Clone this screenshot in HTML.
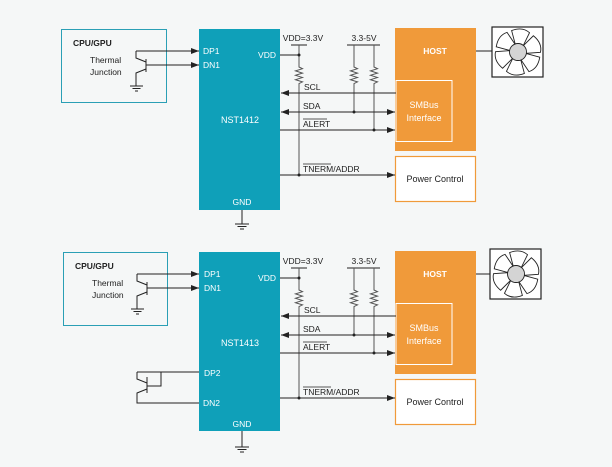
<!DOCTYPE html>
<html><head><meta charset="utf-8"><style>
html,body{margin:0;padding:0;background:#f5f7f7;}
svg{display:block;font-family:"Liberation Sans",sans-serif;}
</style></head><body>
<svg width="612" height="467" viewBox="0 0 612 467" xmlns="http://www.w3.org/2000/svg">
<defs>
<marker id="ar" markerWidth="8" markerHeight="6" refX="8" refY="3" orient="auto" markerUnits="userSpaceOnUse"><path d="M0,0 L8,3 L0,6 Z" fill="#222"/></marker>
<marker id="al" markerWidth="8" markerHeight="6" refX="0" refY="3" orient="auto" markerUnits="userSpaceOnUse"><path d="M8,0 L0,3 L8,6 Z" fill="#222"/></marker>
<g id="fan">
<rect x="492" y="27" width="51" height="50" fill="#fff" stroke="#222" stroke-width="1.2"/>
<g transform="translate(518,52)" fill="#fff" stroke="#222" stroke-width="0.9">
<path d="M-4,-7 L-10,-20 Q0,-26 8,-21 L4,-7 Z" transform="rotate(10)"/>
<path d="M-4,-7 L-10,-20 Q0,-26 8,-21 L4,-7 Z" transform="rotate(70)"/>
<path d="M-4,-7 L-10,-20 Q0,-26 8,-21 L4,-7 Z" transform="rotate(130)"/>
<path d="M-4,-7 L-10,-20 Q0,-26 8,-21 L4,-7 Z" transform="rotate(190)"/>
<path d="M-4,-7 L-10,-20 Q0,-26 8,-21 L4,-7 Z" transform="rotate(250)"/>
<path d="M-4,-7 L-10,-20 Q0,-26 8,-21 L4,-7 Z" transform="rotate(310)"/>
<circle r="8.5" fill="#d4d4d4"/>
</g>
</g>
<g id="right" stroke="#222" stroke-width="1" fill="none">
<rect x="395" y="28" width="81" height="123" fill="#f09a3a" stroke="none"/>
<rect x="396" y="80.5" width="56" height="61" fill="#f09a3a" stroke="#fff" stroke-width="1"/>
<rect x="395.5" y="156.5" width="80" height="45" fill="#fff" stroke="#f09a3a" stroke-width="1.2"/>
<line x1="476" y1="51" x2="492" y2="51"/>
<line x1="280" y1="55" x2="299" y2="55"/>
<line x1="291" y1="45" x2="307" y2="45"/>
<path d="M299,45 V67 l3.5,1.7 l-7,2.2 l7,2.2 l-7,2.2 l7,2.2 l-7,2.2 l7,2.2 l-3.5,1.7 V175" stroke="#555"/>
<line x1="347" y1="45" x2="380" y2="45"/>
<path d="M354,45 V67 l3.5,1.7 l-7,2.2 l7,2.2 l-7,2.2 l7,2.2 l-7,2.2 l7,2.2 l-3.5,1.7 V112" stroke="#555"/>
<path d="M374,45 V67 l3.5,1.7 l-7,2.2 l7,2.2 l-7,2.2 l7,2.2 l-7,2.2 l7,2.2 l-3.5,1.7 V130" stroke="#555"/>
<line x1="396" y1="93" x2="281" y2="93" marker-end="url(#ar)"/>
<line x1="281" y1="112" x2="395" y2="112" marker-start="url(#al)" marker-end="url(#ar)"/>
<line x1="280" y1="130" x2="395" y2="130" marker-end="url(#ar)"/>
<line x1="280" y1="175" x2="395" y2="175" marker-end="url(#ar)"/>
<g fill="#222" stroke="none">
<circle cx="299" cy="55" r="1.5"/><circle cx="299" cy="175" r="1.5"/>
<circle cx="354" cy="112" r="1.5"/><circle cx="374" cy="130" r="1.5"/>
</g>
</g>
<g id="rtext" font-size="8.5" fill="#222">
<text x="303" y="41" text-anchor="middle">VDD=3.3V</text>
<text x="364" y="41" text-anchor="middle">3.3-5V</text>
<text x="304" y="90">SCL</text>
<text x="303" y="109">SDA</text>
<text x="303" y="127">ALERT</text>
<line x1="303" y1="119" x2="327" y2="119" stroke="#222" stroke-width="0.7"/>
<text x="303" y="172">TNERM/ADDR</text>
<line x1="303" y1="164" x2="331" y2="164" stroke="#222" stroke-width="0.7"/>
<text x="435" y="54" text-anchor="middle" fill="#fff" font-weight="bold" font-size="8.5">HOST</text>
<text x="424" y="108" text-anchor="middle" fill="#fff" font-size="9">SMBus</text>
<text x="424" y="121" text-anchor="middle" fill="#fff" font-size="9">Interface</text>
<text x="435" y="182" text-anchor="middle" font-size="9">Power Control</text>
</g>
</defs>

<rect x="199" y="29" width="81" height="181" fill="#0fa0b9"/>
<rect x="61.5" y="29.5" width="105" height="73" fill="none" stroke="#2a9fb5" stroke-width="1"/>
<g stroke="#222" stroke-width="1" fill="none">
<line x1="242" y1="210" x2="242" y2="224"/>
<line x1="235" y1="224" x2="249" y2="224"/><line x1="237.5" y1="226.5" x2="246.5" y2="226.5"/><line x1="240" y1="229" x2="244" y2="229"/>
<path d="M136,51 H199" marker-end="url(#ar)"/>
<path d="M146,65 H199" marker-end="url(#ar)"/>
<path d="M136,51 V58 L146,62"/>
<line x1="146" y1="59" x2="146" y2="72"/>
<path d="M146,69 L136,73 V86"/>
<line x1="130" y1="86" x2="143" y2="86"/><line x1="132.5" y1="88.5" x2="140.5" y2="88.5"/><line x1="135" y1="91" x2="138" y2="91"/>
</g>
<g font-size="8.5" fill="#222">
<text x="73" y="46" font-weight="bold">CPU/GPU</text>
<text x="90" y="63">Thermal</text>
<text x="90" y="75">Junction</text>
</g>
<g font-size="8.5" fill="#fff">
<text x="203" y="54">DP1</text><text x="203" y="68">DN1</text>
<text x="276" y="58" text-anchor="end">VDD</text>
<text x="240" y="123" text-anchor="middle" font-size="9">NST1412</text>
<text x="242" y="205" text-anchor="middle">GND</text>
</g>
<use href="#right"/><use href="#rtext"/><use href="#fan"/>

<g transform="translate(0,222)">
<rect x="199" y="30" width="81" height="179" fill="#0fa0b9"/>
<rect x="63.5" y="30.5" width="104" height="73" fill="none" stroke="#2a9fb5" stroke-width="1"/>
<g stroke="#222" stroke-width="1" fill="none">
<line x1="242" y1="209" x2="242" y2="225"/>
<line x1="235" y1="225" x2="249" y2="225"/><line x1="237.5" y1="227.5" x2="246.5" y2="227.5"/><line x1="240" y1="230" x2="244" y2="230"/>
<path d="M137,52 H199" marker-end="url(#ar)"/>
<path d="M147,66 H199" marker-end="url(#ar)"/>
<path d="M137,52 V59 L147,63"/>
<line x1="147" y1="60" x2="147" y2="73"/>
<path d="M147,70 L137,74 V87"/>
<line x1="131" y1="87" x2="144" y2="87"/><line x1="133.5" y1="89.5" x2="141.5" y2="89.5"/><line x1="136" y1="92" x2="139" y2="92"/>
<path d="M137,150 H199"/>
<path d="M137,150 V157 L147,161"/>
<line x1="147" y1="155" x2="147" y2="171"/>
<path d="M147,164 H161 V150"/>
<path d="M147,167 L137,171 V181 H199"/>
</g>
<g font-size="8.5" fill="#222">
<text x="75" y="47" font-weight="bold">CPU/GPU</text>
<text x="92" y="64">Thermal</text>
<text x="92" y="76">Junction</text>
</g>
<g font-size="8.5" fill="#fff">
<text x="204" y="55">DP1</text><text x="204" y="69">DN1</text>
<text x="276" y="59" text-anchor="end">VDD</text>
<text x="240" y="124" text-anchor="middle" font-size="9">NST1413</text>
<text x="204" y="154">DP2</text><text x="203" y="184">DN2</text>
<text x="242" y="205" text-anchor="middle">GND</text>
</g>
<use href="#right" transform="translate(0,1)"/><use href="#rtext" transform="translate(0,1)"/><use href="#fan" transform="translate(-2,0)"/>
</g>
</svg>
</body></html>
